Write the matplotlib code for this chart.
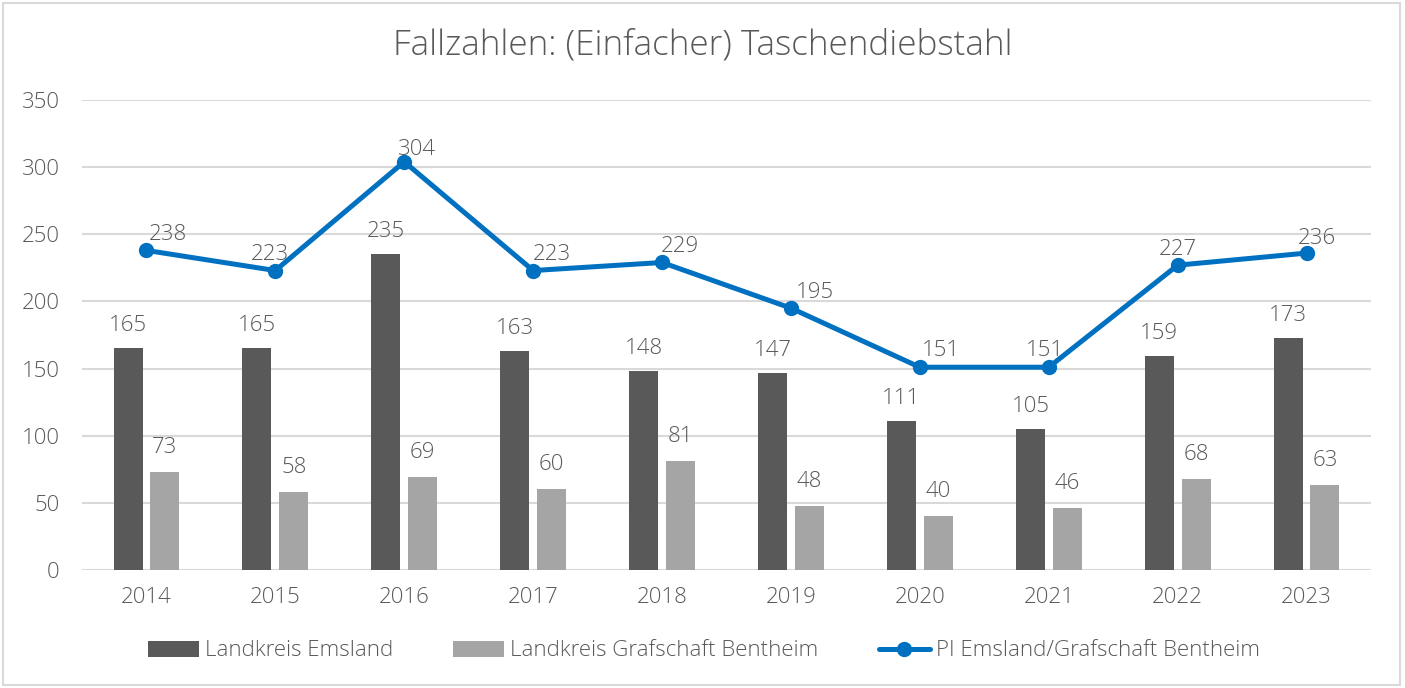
import numpy as np
import matplotlib.pyplot as plt
from matplotlib.patches import Rectangle

years = ['2014', '2015', '2016', '2017', '2018', '2019', '2020', '2021', '2022', '2023']
emsland = [165, 165, 235, 163, 148, 147, 111, 105, 159, 173]
bentheim = [73, 58, 69, 60, 81, 48, 40, 46, 68, 63]
pi_total = [238, 223, 304, 223, 229, 195, 151, 151, 227, 236]

# label nudges for the line (pixels), as placed in the original
line_dx = [21, -5, 13, 19, 18, 24, 21, -4, 0, 10]
line_dy = [16, 16, 12, 16, 16, 16, 17, 17, 16, 15]

plt.rcParams['font.family'] = ['Open Sans', 'DejaVu Sans']
plt.rcParams['font.weight'] = 'light'
txt = '#595959'
c_dark = '#595959'
c_light = '#A5A5A5'
c_line = '#0070C0'
fs = 16

fig = plt.figure(figsize=(14.05, 6.88), dpi=100)
ax = fig.add_axes([82 / 1405, 1 - 570 / 688, (1371 - 82) / 1405, 470 / 688])

x = np.arange(len(years))
w = 0.225
off = 0.143
b1 = ax.bar(x - off, emsland, w, color=c_dark, label='Landkreis Emsland', zorder=2)
b2 = ax.bar(x + off, bentheim, w, color=c_light, label='Landkreis Grafschaft Bentheim', zorder=2)
ln, = ax.plot(x, pi_total, color=c_line, lw=3.6, marker='o', ms=10, zorder=3,
              label='PI Emsland/Grafschaft Bentheim', solid_capstyle='round')

pt = 0.72
for i in range(len(years)):
    ax.annotate(str(emsland[i]), (x[i] - off, emsland[i]), xytext=(0, 12 * pt),
                textcoords='offset points', ha='center', va='bottom', fontsize=fs, color=txt)
    ax.annotate(str(bentheim[i]), (x[i] + off, bentheim[i]), xytext=(0, 14 * pt),
                textcoords='offset points', ha='center', va='bottom', fontsize=fs, color=txt)
    ax.annotate(str(pi_total[i]), (x[i], pi_total[i]), xytext=(line_dx[i] * pt, line_dy[i] * pt),
                textcoords='offset points', ha='center', va='center', fontsize=fs, color=txt)

ax.set_xlim(-0.5, len(years) - 0.5)
ax.set_ylim(0, 350)
ax.set_yticks(range(0, 351, 50))
ax.set_xticks(x)
ax.set_xticklabels(years)
ax.grid(axis='y', color='#D9D9D9', lw=1.5, zorder=0)
ax.set_axisbelow(True)
for s in ax.spines.values():
    s.set_visible(False)
ax.tick_params(length=0, labelsize=fs, labelcolor=txt)
ax.tick_params(axis='y', pad=16)
ax.tick_params(axis='x', pad=12)

fig.suptitle('Fallzahlen: (Einfacher) Taschendiebstahl', x=0.5, y=1 - 45 / 688, va='center',
             fontsize=25.3, color=txt, fontweight='light')

fig.legend(handles=[b1, b2, ln], loc='center', bbox_to_anchor=(0.501, 1 - 651 / 688), ncol=3,
           frameon=False, fontsize=fs, labelcolor=txt, handlelength=2.3, handletextpad=0.27,
           columnspacing=2.7)

fig.patches.append(Rectangle((3 / 1405, 3 / 688), 1 - 8 / 1405, 1 - 6 / 688, transform=fig.transFigure,
                             fill=False, edgecolor='#D9D9D9', lw=1.5))

fig.savefig('out.png', dpi=100)
